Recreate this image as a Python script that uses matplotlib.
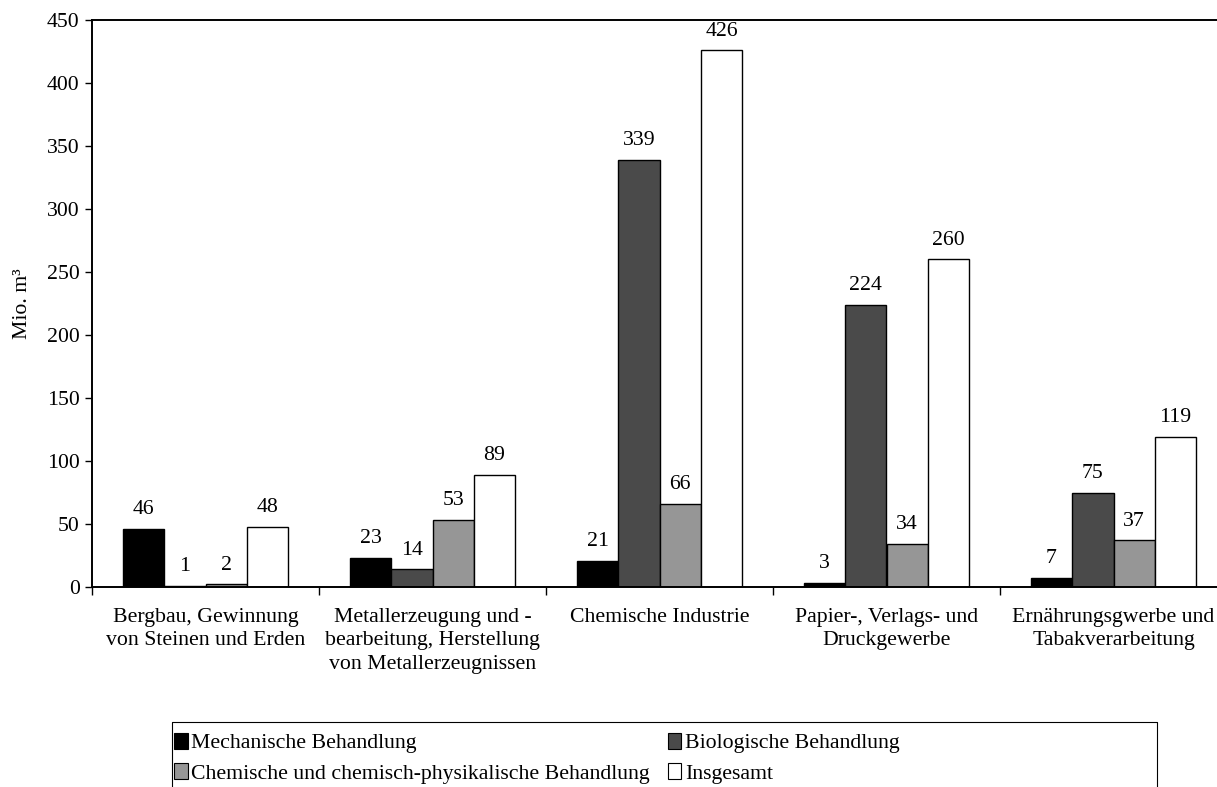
import matplotlib
matplotlib.use("Agg")
import matplotlib.pyplot as plt
from matplotlib.patches import Rectangle
from matplotlib.lines import Line2D
import numpy as np

plt.rcParams['font.family'] = ['Liberation Serif', 'DejaVu Serif']

categories = [
    "Bergbau, Gewinnung\nvon Steinen und Erden",
    "Metallerzeugung und -\nbearbeitung, Herstellung\nvon Metallerzeugnissen",
    "Chemische Industrie",
    "Papier-, Verlags- und\nDruckgewerbe",
    "Ernährungsgwerbe und\nTabakverarbeitung",
]
series_names = [
    "Mechanische Behandlung",
    "Biologische Behandlung",
    "Chemische und chemisch-physikalische Behandlung",
    "Insgesamt",
]
mechanisch = [46, 23, 21, 3, 7]
biologisch = [1, 14, 339, 224, 75]
chemisch = [2, 53, 66, 34, 37]
insgesamt = [48, 89, 426, 260, 119]
colors = ["#000000", "#4a4a4a", "#969696", "#ffffff"]
y_ticks = [0, 50, 100, 150, 200, 250, 300, 350, 400, 450]

W, H = 1217, 787
fig = plt.figure(figsize=(W / 100, H / 100), dpi=100)
ax = fig.add_axes([92 / W, 1 - 587 / H, (1227 - 92) / W, (587 - 20) / H])

fs = 15.7
x = np.arange(len(categories))
bw = 0.182
all_series = [mechanisch, biologisch, chemisch, insgesamt]
for i, (vals, col) in enumerate(zip(all_series, colors)):
    pos = x + (i - 1.5) * bw
    ax.bar(pos, vals, width=bw, color=col, edgecolor="black",
           linewidth=1.0, label=series_names[i])
    for xp, v in zip(pos, vals):
        ax.annotate(str(v), (xp, v), xytext=(0, 7), textcoords="offset points",
                    ha="center", va="bottom", fontsize=fs)

ax.set_xlim(-0.5, len(categories) - 0.5)
ax.set_ylim(0, 450)
ax.set_yticks(y_ticks)
ax.tick_params(axis="y", labelsize=fs, direction="out", length=5, width=1.0, pad=4)

# boundary ticks between groups, labels centred on the groups
ax.set_xticks(np.arange(len(categories) + 1) - 0.5)
ax.set_xticklabels([])
ax.tick_params(axis="x", which="major", direction="out", length=6, width=1.0)
ax.set_xticks(x, minor=True)
ax.set_xticklabels(categories, minor=True, fontsize=fs, linespacing=1.32, va="top")
ax.tick_params(axis="x", which="minor", length=0, pad=15)

for s in ax.spines.values():
    s.set_linewidth(1.4)

ax.set_ylabel("Mio. m³", fontsize=fs)
ax.yaxis.set_label_coords((32 - 92) / (1227 - 92), 0.5)

# legend, filled row by row, boxed and running past the lower edge of the figure
order = [0, 2, 1, 3]
handles = [Rectangle((0, 0), 1, 1, facecolor=colors[k], edgecolor="black", linewidth=0.8)
           for k in order]
labels = [series_names[k] for k in order]
fig.legend(handles, labels, ncol=2, loc="upper left",
           bbox_to_anchor=(174 / W, 1 - 733 / H), frameon=False,
           fontsize=fs, handlelength=0.62, handleheight=0.72,
           handletextpad=0.15, columnspacing=0.85, borderaxespad=0,
           borderpad=0, labelspacing=0.45)
box_l, box_r, box_t = 172 / W, 1157 / W, 1 - 722 / H
fig.add_artist(Line2D([box_l, box_l, box_r, box_r], [0, box_t, box_t, 0],
                      transform=fig.transFigure, color="black", linewidth=0.8))

fig.savefig("out.png", dpi=100)
